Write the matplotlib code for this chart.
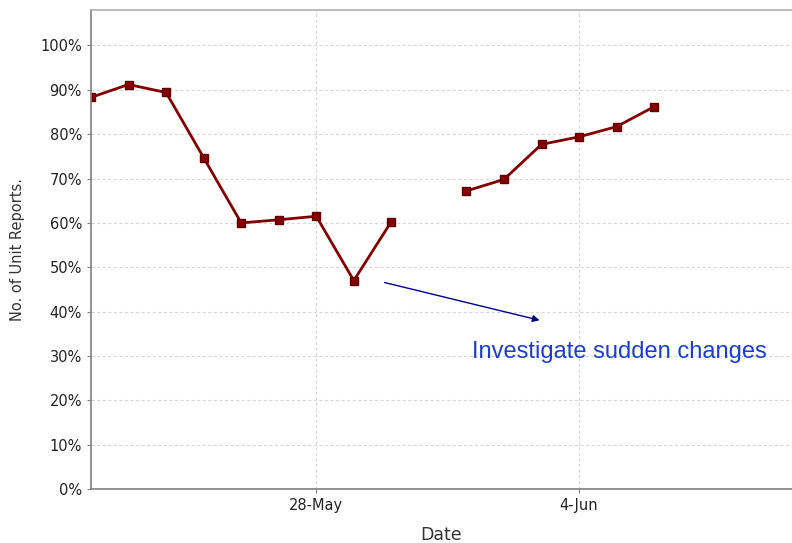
import numpy as np
import matplotlib
matplotlib.use("Agg")
import matplotlib.pyplot as plt
import matplotlib.dates as mdates
from datetime import datetime, timedelta

plt.rcParams["font.family"] = ["DejaVu Sans"]

# daily values, 22-May .. 6-Jun (31-May missing)
dates = [datetime(2008, 5, 22) + timedelta(days=i) for i in range(16)]
values = [88.3, 91.2, 89.4, 74.7, 60.0, 60.7, 61.5, 47.0, 60.3, np.nan,
          67.2, 69.8, 77.7, 79.4, 81.7, 86.2]
yticks = list(range(0, 101, 10))
xticks = [datetime(2008, 5, 28), datetime(2008, 6, 4)]
xticklabels = ["28-May", "4-Jun"]

fig = plt.figure(figsize=(7.92, 5.43), dpi=100)
ax = fig.add_axes([0.1149, 0.0994, 0.885, 0.8822])

ax.plot(dates, values, color="#840000", lw=2.0, marker="s", markersize=6,
        markerfacecolor="#840000", markeredgecolor="#600000")

x0 = mdates.date2num(datetime(2008, 5, 22))
ax.set_xlim(x0, x0 + 18.67)
ax.set_ylim(0, 108)

ax.set_yticks(yticks)
ax.set_yticklabels([f"{t}%" for t in yticks], fontsize=10.5, color="#222222")
ax.set_xticks(xticks)
ax.set_xticklabels(xticklabels, fontsize=10.5, color="#222222")
ax.tick_params(axis="both", length=3, color="#808080")

ax.grid(True, color="#d8d8d8", linestyle=(0, (3, 2)), lw=0.8)
ax.set_axisbelow(True)
for side in ["left", "bottom", "top"]:
    ax.spines[side].set_color("#808080")
    ax.spines[side].set_linewidth(1.2)
ax.spines["top"].set_color("#b0b0b0")
ax.spines["right"].set_visible(False)

ax.set_xlabel("Date", fontsize=12.5, color="#333333", labelpad=9)
ax.set_ylabel("No. of Unit Reports.", fontsize=10.5, color="#333333", labelpad=11)

ax.annotate("", xy=(x0 + 12.02, 37.9), xytext=(x0 + 7.75, 46.7),
            arrowprops=dict(arrowstyle="-|>", color="#00008b", lw=1.0,
                            mutation_scale=10))
ax.text(x0 + 10.15, 30.9, "Investigate sudden changes", fontsize=17,
        color="#1a3fd0", family="Liberation Sans", va="center", ha="left")

fig.savefig("out.png", dpi=100)
